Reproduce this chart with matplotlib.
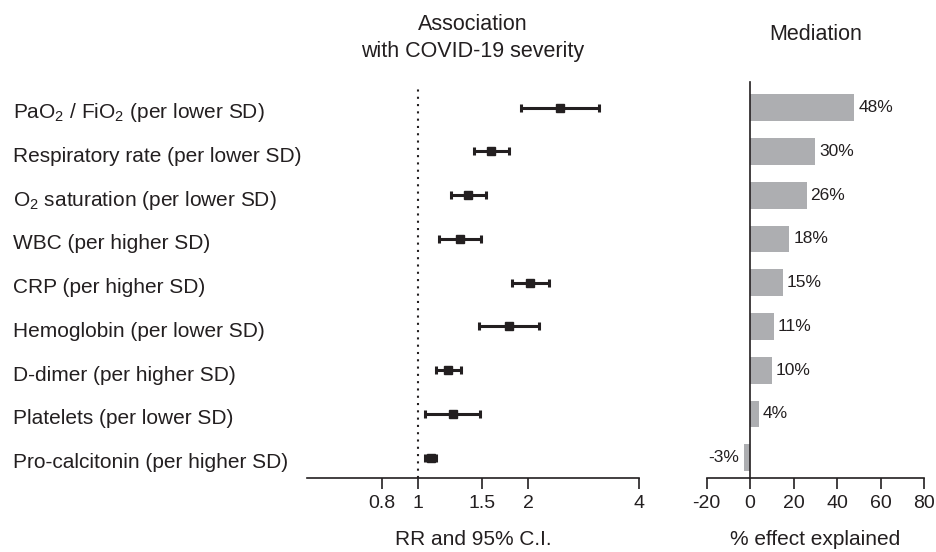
import numpy as np
import matplotlib
matplotlib.use("Agg")
import matplotlib.pyplot as plt
from matplotlib.ticker import NullLocator
import matplotlib.transforms as mtransforms

plt.rcParams['font.family'] = ['Liberation Sans', 'DejaVu Sans']
plt.rcParams['axes.unicode_minus'] = False

labels = [
    'PaO$_\\mathregular{2}$ / FiO$_\\mathregular{2}$ (per lower SD)',
    'Respiratory rate (per lower SD)',
    'O$_\\mathregular{2}$ saturation (per lower SD)',
    'WBC (per higher SD)',
    'CRP (per higher SD)',
    'Hemoglobin (per lower SD)',
    'D-dimer (per higher SD)',
    'Platelets (per lower SD)',
    'Pro-calcitonin (per higher SD)',
]
rr = np.array([2.43, 1.58, 1.37, 1.30, 2.02, 1.77, 1.21, 1.25, 1.085])
ci_low = np.array([1.91, 1.42, 1.23, 1.14, 1.81, 1.47, 1.12, 1.05, 1.045])
ci_high = np.array([3.11, 1.77, 1.53, 1.49, 2.27, 2.13, 1.31, 1.48, 1.125])
mediation = [48, 30, 26, 18, 15, 11, 10, 4, -3]

rr_ticks = [0.8, 1, 1.5, 2, 4]
rr_ticklabels = ['0.8', '1', '1.5', '2', '4']
med_ticks = [-20, 0, 20, 40, 60, 80]

ink = '#231f20'
bar_col = '#adaeb1'

fig = plt.figure(figsize=(9.36, 5.52), dpi=100)
ax1 = fig.add_axes([0.3277, 0.1341, 0.3553, 0.7174])
ax2 = fig.add_axes([0.7550, 0.1341, 0.2322, 0.7174])

y = np.arange(len(labels))

# forest plot
ax1.axvline(1, ymin=0, ymax=0.988, color=ink, lw=1.5, ls=(0, (1, 2.5)))
ax1.errorbar(rr, y, xerr=[rr - ci_low, ci_high - rr], fmt='s', ms=6,
             color=ink, ecolor=ink, elinewidth=2.2, capsize=3.2, capthick=2.2)
ax1.set_xscale('log')
ax1.set_xlim(0.5, 4)
ax1.set_ylim(8.464, -0.587)
ax1.set_xticks(rr_ticks)
ax1.set_xticklabels(rr_ticklabels)
ax1.xaxis.set_minor_locator(NullLocator())
ax1.set_yticks([])
for s in ['top', 'right', 'left']:
    ax1.spines[s].set_visible(False)
ax1.spines['bottom'].set_linewidth(1.2)
ax1.spines['bottom'].set_color(ink)
ax1.tick_params(axis='x', length=8, width=1.2, color=ink, labelsize=14,
                labelcolor=ink, pad=4)
ax1.set_xlabel('RR and 95% C.I.', fontsize=15, color=ink, labelpad=13)
ax1.set_title('Association\nwith COVID-19 severity', fontsize=15.5,
              color=ink, pad=18, linespacing=1.38)

# row labels
trans = mtransforms.blended_transform_factory(fig.transFigure, ax1.transData)
for yi, lab in zip(y, labels):
    ax1.text(0.0142, yi + 0.24, lab, transform=trans, ha='left',
             va='baseline', fontsize=15, color=ink)

# mediation bars
ax2.barh(y, mediation, height=0.61, color=bar_col)
for yi, v in zip(y, mediation):
    if v >= 0:
        ax2.text(v + 1.8, yi, f'{v}%', ha='left', va='center',
                 fontsize=12.5, color=ink)
    else:
        ax2.text(v - 2.0, yi, f'{v}%', ha='right', va='center',
                 fontsize=12.5, color=ink)
ax2.set_xlim(-20, 80)
ax2.set_ylim(8.464, -0.587)
ax2.set_xticks(med_ticks)
ax2.set_yticks([])
ax2.spines['top'].set_visible(False)
ax2.spines['right'].set_visible(False)
ax2.spines['left'].set_position(('data', 0))
ax2.spines['left'].set_linewidth(1.2)
ax2.spines['left'].set_color(ink)
ax2.spines['bottom'].set_linewidth(1.2)
ax2.spines['bottom'].set_color(ink)
ax2.tick_params(axis='x', length=8, width=1.2, color=ink, labelsize=14,
                labelcolor=ink, pad=4)
ax2.set_xlabel('% effect explained', fontsize=15, color=ink, labelpad=13)
ax2.set_title('Mediation', fontsize=15.5, color=ink, pad=30)

fig.savefig('out.png', dpi=100)
